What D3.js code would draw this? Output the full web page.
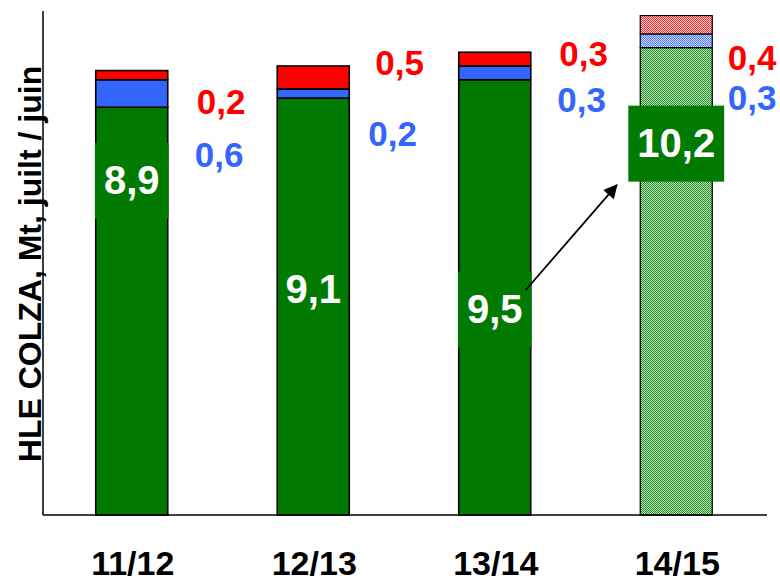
<!DOCTYPE html>
<html><head><meta charset="utf-8">
<script src="https://cdn.jsdelivr.net/npm/d3@7"></script>
<style>html,body{margin:0;padding:0;background:#fff;}svg{display:block;font-family:"Liberation Sans",Arial,sans-serif;font-weight:bold;}</style>
</head><body>
<svg id="c" width="780" height="582"></svg>
<script>
// Data
const categories = ["11/12", "12/13", "13/14", "14/15"];
const green = [8.9, 9.1, 9.5, 10.2];
const blue  = [0.6, 0.2, 0.3, 0.3];
const red   = [0.2, 0.5, 0.3, 0.4];
const greenLabels = ["8,9", "9,1", "9,5", "10,2"];
const blueLabels  = ["0,6", "0,2", "0,3", "0,3"];
const redLabels   = ["0,2", "0,5", "0,3", "0,4"];
const forecast = [false, false, false, true];
const yTitle = "HLE COLZA, Mt, juilt / juin";

// Annotation placement (value units on y, px offsets on x)
const greenLabelY = [7.0, 4.63, 4.19, 7.81];
const greenBoxVisible = [true, false, true, true];
const redLabelY = [8.75, 9.60, 9.80, 9.71];
const blueLabelY = [7.60, 8.05, 8.80, 8.84];
const redLabelDx = [65, 62, 64.5, 51.5];
const blueLabelDx = [63, 55, 62.5, 51.5];

const svg = d3.select("#c");
const x = d3.scaleBand().domain(categories).range([41, 767]).padding(0);
const y = d3.scaleLinear().domain([0, 11]).range([515, 11]);
const barW = 72;
const cx = c => x(c) + x.bandwidth() / 2;

// Patterns for forecast bar
const defs = svg.append("defs");
function pat(id, bg, fg) {
  const p = defs.append("pattern").attr("id", id).attr("patternUnits", "userSpaceOnUse")
    .attr("width", 2).attr("height", 2);
  p.append("rect").attr("width", 2).attr("height", 2).attr("fill", bg);
  p.append("rect").attr("width", 1).attr("height", 1).attr("fill", fg);
  p.append("rect").attr("x", 1).attr("y", 1).attr("width", 1).attr("height", 1).attr("fill", fg);
}
pat("pg", "#bfe3bf", "#1f8f1f");
pat("pb", "#ccd9ff", "#4f7bff");
pat("pr", "#ffcccc", "#ff3030");
defs.append("marker").attr("id", "arr").attr("viewBox", "0 0 10 10").attr("refX", 9).attr("refY", 5)
  .attr("markerUnits", "userSpaceOnUse")
  .attr("orient", "auto")
  .attr("markerWidth", 16).attr("markerHeight", 14)
  .append("path").attr("d", "M0,0 L10,5 L0,10 Z").attr("fill", "#000");

// Stacked bars
const stackData = categories.map((c, i) => ({cat: c, green: green[i], blue: blue[i], red: red[i], fc: forecast[i]}));
const stack = d3.stack().keys(["green", "blue", "red"])(stackData);
const solid = {green: "#007a00", blue: "#3366ff", red: "#ff0000"};
const patt = {green: "url(#pg)", blue: "url(#pb)", red: "url(#pr)"};
stack.forEach(layer => {
  svg.append("g").selectAll("rect").data(layer).join("rect")
    .attr("x", d => cx(d.data.cat) - barW / 2)
    .attr("width", barW)
    .attr("y", d => y(d[1]))
    .attr("height", d => y(d[0]) - y(d[1]))
    .attr("fill", d => d.data.fc ? patt[layer.key] : solid[layer.key])
    .attr("stroke", "#000")
    .attr("stroke-width", d => d.data.fc ? 1.2 : 1.6);
});

// Axes
svg.append("line").attr("x1", 43).attr("x2", 43).attr("y1", y(11)).attr("y2", y(0))
  .attr("stroke", "#000").attr("stroke-width", 1.5);
svg.append("line").attr("x1", 43).attr("x2", 767).attr("y1", y(0)).attr("y2", y(0))
  .attr("stroke", "#000").attr("stroke-width", 1.5);

// Category labels
svg.append("g").selectAll("text").data(categories).join("text")
  .attr("x", d => cx(d) + 1).attr("y", 575)
  .attr("text-anchor", "middle").attr("font-size", 34).attr("fill", "#000")
  .text(d => d);

// Y title
svg.append("text").attr("transform", "translate(41,264) rotate(-90)")
  .attr("text-anchor", "middle").attr("font-size", 32).attr("fill", "#000").text(yTitle);

// Green value labels with boxes
const gl = svg.append("g");
categories.forEach((c, i) => {
  const t = gl.append("text").attr("x", cx(c)).attr("y", y(greenLabelY[i]))
    .attr("text-anchor", "middle").attr("font-size", 40).attr("fill", "#fff").text(greenLabels[i]);
  const bb = t.node().getBBox();
  if (greenBoxVisible[i]) {
    gl.insert("rect", () => t.node())
      .attr("x", cx(c) - bb.width / 2 - 9).attr("width", bb.width + 18)
      .attr("y", y(greenLabelY[i]) - 51.5).attr("height", 76)
      .attr("fill", "#007a00");
  }
});

// Side labels
svg.append("g").selectAll("text").data(categories).join("text")
  .attr("x", (d, i) => cx(d) + redLabelDx[i]).attr("y", (d, i) => y(redLabelY[i]))
  .attr("font-size", 35).attr("fill", "#ff0000").text((d, i) => redLabels[i]);
svg.append("g").selectAll("text").data(categories).join("text")
  .attr("x", (d, i) => cx(d) + blueLabelDx[i]).attr("y", (d, i) => y(blueLabelY[i]))
  .attr("font-size", 35).attr("fill", "#3366ff").text((d, i) => blueLabels[i]);

// Arrow from 13/14 to 14/15
svg.append("line")
  .attr("x1", cx("13/14") + 31).attr("y1", y(4.91))
  .attr("x2", cx("14/15") - 59.5).attr("y2", y(7.2))
  .attr("stroke", "#000").attr("stroke-width", 1.8)
  .attr("marker-end", "url(#arr)");
</script>
</body></html>
